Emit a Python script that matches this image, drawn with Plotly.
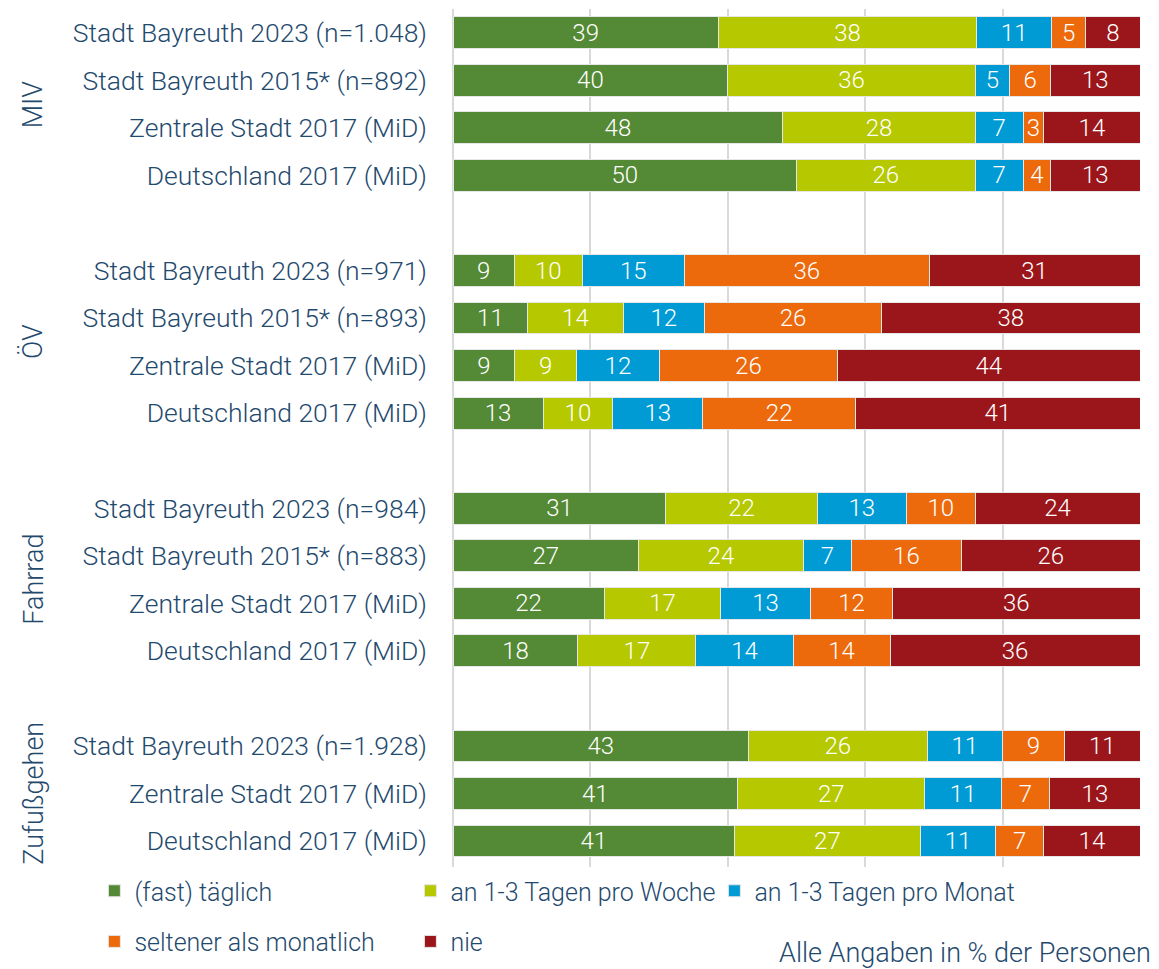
import plotly.graph_objects as go

# Verkehrsmittelnutzung nach Häufigkeit, Angaben in % der Personen

groups = ["MIV", "ÖV", "Fahrrad", "Zufußgehen"]

rows_miv = ["Stadt Bayreuth 2023 (n=1.048)", "Stadt Bayreuth 2015* (n=892)",
            "Zentrale Stadt 2017 (MiD)", "Deutschland 2017 (MiD)"]
rows_oev = ["Stadt Bayreuth 2023 (n=971)", "Stadt Bayreuth 2015* (n=893)",
            "Zentrale Stadt 2017 (MiD)", "Deutschland 2017 (MiD)"]
rows_rad = ["Stadt Bayreuth 2023 (n=984)", "Stadt Bayreuth 2015* (n=883)",
            "Zentrale Stadt 2017 (MiD)", "Deutschland 2017 (MiD)"]
rows_fuss = ["Stadt Bayreuth 2023 (n=1.928)", "Zentrale Stadt 2017 (MiD)",
             "Deutschland 2017 (MiD)"]

series_names = ["(fast) täglich", "an 1-3 Tagen pro Woche", "an 1-3 Tagen pro Monat",
                "seltener als monatlich", "nie"]

taeglich = [39, 40, 48, 50, 9, 11, 9, 13, 31, 27, 22, 18, 43, 41, 41]
woche = [38, 36, 28, 26, 10, 14, 9, 10, 22, 24, 17, 17, 26, 27, 27]
monat = [11, 5, 7, 7, 15, 12, 12, 13, 13, 7, 13, 14, 11, 11, 11]
seltener = [5, 6, 3, 4, 36, 26, 26, 22, 10, 16, 12, 14, 9, 7, 7]
nie = [8, 13, 14, 13, 31, 38, 44, 41, 24, 26, 36, 36, 11, 13, 14]

colors = ["#548935", "#b5c800", "#009bd4", "#ec6a0c", "#9a161b"]
txt_col = "#1f4a6e"
font = "Roboto"

# y-Kategorien mit Leerzeilen zwischen den Gruppen
cats, ticktext, is_gap = [], [], []
for gi, (g, rr) in enumerate(zip(groups, [rows_miv, rows_oev, rows_rad, rows_fuss])):
    if gi > 0:
        cats.append("gap%d" % gi)
        ticktext.append("")
        is_gap.append(True)
    for r in rr:
        cats.append(g + "|" + r)
        ticktext.append(r)
        is_gap.append(False)


def expand(vals):
    it = iter(vals)
    return [None if gap else next(it) for gap in is_gap]


# jede Legendenposition einzeln (2 Zeilen wie im Original)
leg_ids = ["legend", "legend2", "legend3", "legend4", "legend5"]
leg_x = [-0.522, -0.062, 0.3805, -0.522, -0.062]
leg_y = [-0.028, -0.028, -0.028, -0.087, -0.087]

fig = go.Figure()
for i, (name, vals) in enumerate(zip(series_names, [taeglich, woche, monat, seltener, nie])):
    xs = expand(vals)
    fig.add_trace(go.Bar(
        y=cats, x=xs, name=name, orientation="h",
        marker=dict(color=colors[i], line=dict(color="#e6e6e6", width=1)),
        text=["" if v is None else str(v) for v in xs],
        textposition="inside", insidetextanchor="middle", textangle=0,
        textfont=dict(family=font, size=24, color="white", weight=300),
        legend=leg_ids[i],
    ))

# Gruppenbeschriftungen (senkrecht)
group_pos = [1.5, 6.5, 11.5, 16]
for g, yp in zip(groups, group_pos):
    fig.add_annotation(text=g, xref="paper", x=-0.611, xanchor="center",
                       yref="y", y=yp, yanchor="middle",
                       textangle=-90, showarrow=False,
                       font=dict(family=font, size=27, color=txt_col, weight=300))

fig.add_annotation(text="Alle Angaben in % der Personen", xref="paper", x=1.019,
                   xanchor="right", yref="paper", y=-0.1002, yanchor="middle",
                   showarrow=False, font=dict(family=font, size=27, color=txt_col, weight=300))

leg_font = dict(family=font, size=25, color=txt_col, weight=300)
legends = {}
for lid, lx, ly in zip(leg_ids, leg_x, leg_y):
    legends[lid] = dict(orientation="h", x=lx, y=ly, xanchor="left", yanchor="middle",
                        bgcolor="rgba(0,0,0,0)", font=leg_font, itemclick=False)

fig.update_layout(
    width=1151, height=961,
    margin=dict(l=445, r=19, t=1, b=102),
    plot_bgcolor="white", paper_bgcolor="white",
    barmode="stack", barnorm="percent", bargap=0.33,
    font=dict(family=font, size=26, color=txt_col),
    uniformtext=dict(minsize=24, mode="show"),
    showlegend=True,
    xaxis=dict(range=[0, 100], dtick=20, showticklabels=False, showgrid=True,
               gridcolor="#d9d9d9", gridwidth=2, zeroline=True,
               zerolinecolor="#d9d9d9", zerolinewidth=2, fixedrange=True),
    yaxis=dict(type="category", categoryorder="array", categoryarray=cats,
               tickvals=cats, ticktext=ticktext, autorange="reversed",
               showgrid=False, ticks="", ticklabelstandoff=25,
               tickfont=dict(family=font, size=26.5, color=txt_col, weight=300)),
    **legends,
)

fig.write_html("out.html")
